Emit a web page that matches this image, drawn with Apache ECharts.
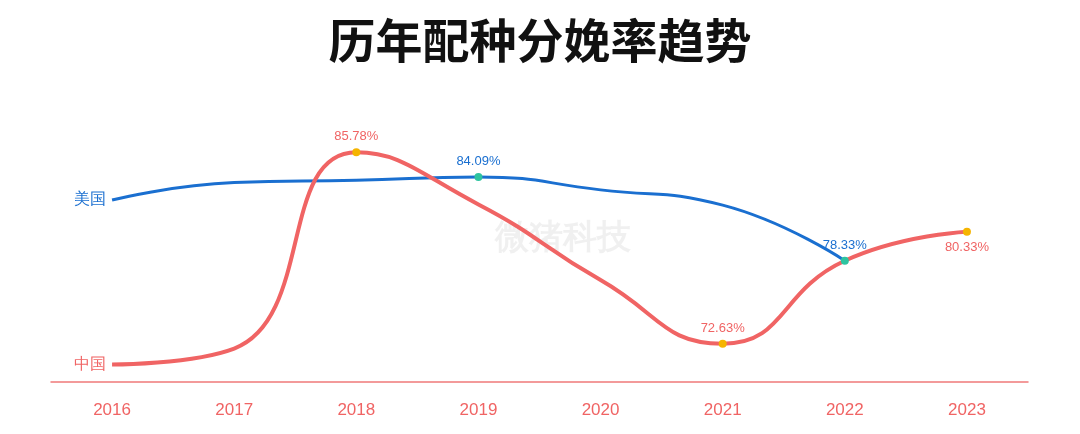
<!DOCTYPE html>
<html><head><meta charset="utf-8">
<script src="https://cdn.jsdelivr.net/npm/echarts@6/dist/echarts.min.js"></script>
<style>html,body{margin:0;padding:0;background:#fff}#c{width:1080px;height:434px}</style>
</head><body><div id="c"></div>
<script>
const categories = ['2016','2017','2018','2019','2020','2021','2022','2023'];
const chinaValues = [71.2, 72.3, 85.78, 82.2, 77.0, 72.63, 78.33, 80.33];
const usaValues = [82.5, 83.7, 83.86, 84.09, 83.2, 82.15, 78.33, null];
const chinaLabeled = [2, 5, 7];
const usaLabeled = [3, 6];
const RED = '#f06464', BLUE = '#1a6fd0';

function build(vals, labeled, name, color, dot, pos) {
  return vals.map((v, i) => {
    if (v === null) return null;
    const it = { value: v };
    if (i === 0) {
      it.symbol = 'circle'; it.symbolSize = 1;
      it.itemStyle = { color: 'rgba(0,0,0,0)' };
      it.label = { show: true, position: 'left', formatter: name, color: color, fontSize: 16, distance: 6 };
    } else if (labeled.includes(i)) {
      it.symbol = 'circle'; it.symbolSize = 8;
      it.itemStyle = { color: dot };
      it.label = { show: true, position: pos[i] || 'top', formatter: v.toFixed(2) + '%', color: color, fontSize: 13 };
    }
    return it;
  });
}

const chart = echarts.init(document.getElementById('c'));
chart.setOption({
  animation: false,
  title: { text: '历年配种分娩率趋势', left: 'center', top: 12, textStyle: { fontSize: 47, fontWeight: 'bold', color: '#111', fontFamily: 'Noto Sans CJK SC' } },
  grid: { left: 51, right: 52, top: 120, bottom: 52 },
  xAxis: { type: 'category', data: categories, boundaryGap: true,
    axisLine: { lineStyle: { color: '#f07a7a', width: 1.5 } }, axisTick: { show: false },
    axisLabel: { color: '#f06464', fontSize: 17, margin: 20 } },
  yAxis: { type: 'value', min: 70, max: 88, show: false, splitLine: { show: false } },
  graphic: [{ type: 'text', left: 495, top: 222, style: { text: '微猪科技', fontSize: 34, fill: 'rgba(0,0,0,0.06)', fontWeight: 'bold' } }],
  series: [
    { name: '美国', type: 'line', smooth: 0.5, symbol: 'none', lineStyle: { color: BLUE, width: 3 }, itemStyle: { color: BLUE },
      data: build(usaValues, usaLabeled, '美国', BLUE, '#2ec4a0', { 6: 'top' }) },
    { name: '中国', type: 'line', smooth: 0.5, symbol: 'none', lineStyle: { color: RED, width: 4 }, itemStyle: { color: RED },
      data: build(chinaValues, chinaLabeled, '中国', RED, '#f5b400', { 7: 'bottom' }) }
  ]
});
</script></body></html>
